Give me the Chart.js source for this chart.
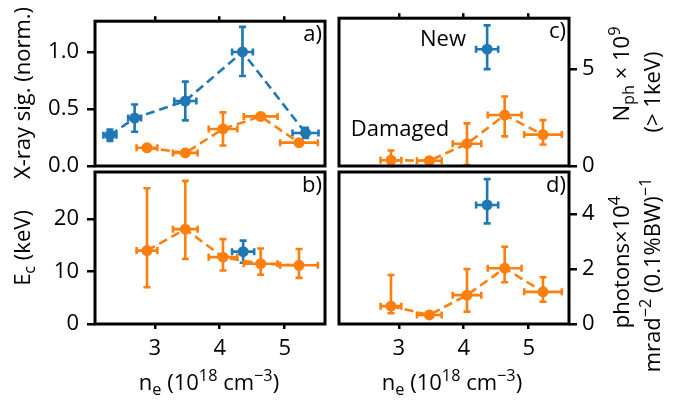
<!DOCTYPE html>
<html><head><meta charset="utf-8">
<script src="https://cdn.jsdelivr.net/npm/chart.js@4/dist/chart.umd.min.js"></script>
<style>
html,body{margin:0;padding:0;background:#fff;}
#wrap{position:relative;width:678px;height:401px;overflow:hidden;}
canvas{position:absolute;left:0;top:0;}
</style></head><body>
<div id="wrap">
<canvas id="ca" width="678" height="401"></canvas>
<canvas id="cb" width="678" height="401"></canvas>
<canvas id="cc" width="678" height="401"></canvas>
<canvas id="cd" width="678" height="401"></canvas>
</div>
<script>
const FONT = "'Open Sans', sans-serif";
const FS = 22;
const BLUE = '#1f77b4', ORANGE = '#ff7f0e';

// axes
const XMIN = 2.08, XMAX = 5.62;
const xTicks = [3, 4, 5];
const aYTicks = [0, 0.5, 1.0];
const aYLabels = ['0.0', '0.5', '1.0'];
const bYTicks = [0, 10, 20];
const cYTicks = [0, 5];
const dYTicks = [0, 2, 4];

// "New" target (blue)
const newX_a = [2.31, 2.69, 3.47, 4.35, 5.32];
const newXErr_a = [0.10, 0.10, 0.17, 0.16, 0.20];
const newY_a = [0.27, 0.42, 0.57, 1.00, 0.29];
const newYLo_a = [0.05, 0.12, 0.17, 0.21, 0.045];
const newYHi_a = [0.05, 0.12, 0.17, 0.22, 0.045];

const newX = [4.36];
const newXErr = [0.17];
const newY_b = [13.8];  const newYLo_b = [2.1];  const newYHi_b = [2.1];
const newY_c = [6.03];  const newYLo_c = [1.03]; const newYHi_c = [1.23];
const newY_d = [4.33];  const newYLo_d = [0.67]; const newYHi_d = [0.94];

// "Damaged" target (orange)
const dmgX = [2.88, 3.47, 4.05, 4.63, 5.22];
const dmgXErr = [0.16, 0.19, 0.22, 0.26, 0.29];
const dmgY_a = [0.16, 0.115, 0.325, 0.435, 0.205];
const dmgYLo_a = [0.012, 0.012, 0.145, 0.012, 0.02];
const dmgYHi_a = [0.012, 0.012, 0.145, 0.012, 0.02];
const dmgY_b = [14.0, 18.1, 12.75, 11.5, 11.2];
const dmgYLo_b = [7.0, 5.7, 2.55, 2.1, 2.4];
const dmgYHi_b = [11.9, 9.2, 3.45, 2.9, 3.1];
const dmgY_c = [0.30, 0.27, 1.15, 2.63, 1.62];
const dmgYLo_c = [0.30, 0.03, 1.10, 1.10, 0.51];
const dmgYHi_c = [0.50, 0.03, 1.05, 0.96, 0.75];
const dmgY_d = [0.65, 0.33, 1.05, 2.03, 1.17];
const dmgYLo_d = [0.26, 0.05, 0.60, 0.51, 0.36];
const dmgYHi_d = [1.13, 0.05, 0.95, 0.78, 0.53];

function pts(xs, ys) { return xs.map((x, i) => ({x: x, y: ys[i]})); }
function ds(color, xs, ys, xe, ylo, yhi, line) {
  return {
    data: pts(xs, ys), xErr: xe, yLo: ylo, yHi: yhi,
    showLine: !!line, borderColor: color, backgroundColor: color,
    borderWidth: 2.6, borderDash: [9, 5],
    pointRadius: 5.5, pointBorderWidth: 0, pointBackgroundColor: color, clip: false
  };
}

const errPlugin = {
  id: 'err',
  beforeDatasetsDraw(chart) {
    const ctx = chart.ctx, xs = chart.scales.x, ys = chart.scales.y;
    chart.data.datasets.forEach(d => {
      ctx.save();
      ctx.strokeStyle = d.borderColor; ctx.lineWidth = 2.6; ctx.setLineDash([]);
      d.data.forEach((p, i) => {
        const px = xs.getPixelForValue(p.x), py = ys.getPixelForValue(p.y);
        const x0 = xs.getPixelForValue(p.x - d.xErr[i]), x1 = xs.getPixelForValue(p.x + d.xErr[i]);
        const y0 = ys.getPixelForValue(p.y - d.yLo[i]), y1 = ys.getPixelForValue(p.y + d.yHi[i]);
        const c = 3.5;
        ctx.beginPath();
        ctx.moveTo(x0, py); ctx.lineTo(x1, py);
        ctx.moveTo(x0, py - c); ctx.lineTo(x0, py + c);
        ctx.moveTo(x1, py - c); ctx.lineTo(x1, py + c);
        ctx.moveTo(px, y0); ctx.lineTo(px, y1);
        ctx.moveTo(px - c, y0); ctx.lineTo(px + c, y0);
        ctx.moveTo(px - c, y1); ctx.lineTo(px + c, y1);
        ctx.stroke();
      });
      ctx.restore();
    });
  }
};

const framePlugin = {
  id: 'frame',
  afterDraw(chart, args, opts) {
    const a = chart.chartArea, ctx = chart.ctx;
    ctx.save();
    ctx.strokeStyle = '#000'; ctx.lineWidth = 3;
    ctx.strokeRect(a.left, a.top, a.right - a.left, a.bottom - a.top);
    ctx.font = FS + 'px ' + FONT; ctx.fillStyle = '#000';
    ctx.textAlign = 'right'; ctx.textBaseline = 'alphabetic';
    ctx.fillText(opts.tag, a.right - 3, a.top + 20);
    (opts.notes || []).forEach(n => {
      ctx.textAlign = 'center';
      ctx.fillText(n.t, n.x, n.y);
    });
    ctx.restore();
  }
};

function drawRich(ctx, parts, cx, cy, rot) {
  ctx.save();
  ctx.translate(cx, cy);
  if (rot) ctx.rotate(-Math.PI / 2);
  const small = FS * 0.74;
  let w = 0;
  const items = parts.map(p => {
    const s = (typeof p === 'string') ? {t: p} : p;
    const fs = (s.sub || s.sup) ? small : FS;
    ctx.font = fs + 'px ' + FONT;
    const mw = ctx.measureText(s.t).width;
    w += mw;
    return {t: s.t, fs: fs, dy: s.sub ? FS * 0.22 : (s.sup ? -FS * 0.42 : 0), w: mw};
  });
  let x = -w / 2;
  ctx.fillStyle = '#000'; ctx.textAlign = 'left'; ctx.textBaseline = 'alphabetic';
  items.forEach(it => { ctx.font = it.fs + 'px ' + FONT; ctx.fillText(it.t, x, FS * 0.36 + it.dy); x += it.w; });
  ctx.restore();
}

const titlePlugin = {
  id: 'titles',
  afterDraw(chart) {
    const ctx = chart.ctx;
    drawRich(ctx, ['X-ray sig. (norm.)'], 22, 93, true);
    drawRich(ctx, ['E', {t: 'c', sub: 1}, ' (keV)'], 22, 248, true);
    const xt = ['n', {t: 'e', sub: 1}, ' (10', {t: '18', sup: 1}, ' cm', {t: '−3', sup: 1}, ')'];
    drawRich(ctx, xt, 209, 382, false);
    drawRich(ctx, xt, 452, 382, false);
    drawRich(ctx, ['N', {t: 'ph', sub: 1}, ' × 10', {t: '9', sup: 1}], 621, 74, true);
    drawRich(ctx, ['(> 1keV)'], 652, 92, true);
    drawRich(ctx, ['photons×10', {t: '4', sup: 1}], 621, 262, true);
    drawRich(ctx, ['mrad', {t: '−2', sup: 1}, ' (0.1%BW)', {t: '−1', sup: 1}], 652, 275, true);
  }
};

function panel(id, o) {
  const tickFont = {family: FONT, size: FS};
  return new Chart(document.getElementById(id), {
    type: 'scatter',
    data: {datasets: o.datasets},
    options: {
      responsive: false, animation: false, devicePixelRatio: 1,
      layout: {padding: o.padding},
      plugins: {legend: {display: false}, tooltip: {enabled: false}, frame: {tag: o.tag, notes: o.notes}},
      scales: {
        x: {
          type: 'linear', position: o.xPos, min: XMIN, max: XMAX,
          afterBuildTicks: s => { s.ticks = xTicks.map(v => ({value: v})); },
          afterFit: s => { s.height = o.xH; },
          ticks: {display: o.xLabels, font: tickFont, color: '#000', padding: 7, maxRotation: 0,
                  callback: v => String(v)},
          grid: {drawOnChartArea: false, drawTicks: true, tickLength: 5, color: '#000', lineWidth: 2.5},
          border: {display: false}
        },
        y: {
          type: 'linear', position: o.yPos, min: o.yMin, max: o.yMax,
          afterBuildTicks: s => { s.ticks = o.yTicks.map(v => ({value: v})); },
          afterFit: s => { s.width = 60; },
          ticks: {font: tickFont, color: '#000', padding: o.yPos === 'left' ? 8 : 5,
                  callback: (v, i) => o.yLabels ? o.yLabels[i] : String(v)},
          grid: {drawOnChartArea: false, drawTicks: true, tickLength: 8, color: '#000', lineWidth: 2.5},
          border: {display: false}
        }
      }
    },
    plugins: [errPlugin, framePlugin].concat(o.extra || [])
  });
}

panel('ca', {
  padding: {left: 35, right: 353, top: 10, bottom: 235}, xPos: 'top', xH: 5, xLabels: false,
  yPos: 'left', yMin: 0, yMax: 1.27, yTicks: aYTicks, yLabels: aYLabels, tag: 'a)',
  datasets: [
    ds(BLUE, newX_a, newY_a, newXErr_a, newYLo_a, newYHi_a, true),
    ds(ORANGE, dmgX, dmgY_a, dmgXErr, dmgYLo_a, dmgYHi_a, true)
  ]
});
panel('cb', {
  padding: {left: 35, right: 353, top: 172, bottom: 37}, xPos: 'bottom', xH: 40, xLabels: true,
  yPos: 'left', yMin: 0, yMax: 29, yTicks: bYTicks, tag: 'b)',
  datasets: [
    ds(BLUE, newX, newY_b, newXErr, newYLo_b, newYHi_b, false),
    ds(ORANGE, dmgX, dmgY_b, dmgXErr, dmgYLo_b, dmgYHi_b, true)
  ]
});
panel('cc', {
  padding: {left: 339, right: 49, top: 10, bottom: 235}, xPos: 'top', xH: 5, xLabels: false,
  yPos: 'right', yMin: 0, yMax: 7.63, yTicks: cYTicks, tag: 'c)',
  notes: [{t: 'New', x: 443, y: 46}, {t: 'Damaged', x: 400, y: 136}],
  datasets: [
    ds(BLUE, newX, newY_c, newXErr, newYLo_c, newYHi_c, false),
    ds(ORANGE, dmgX, dmgY_c, dmgXErr, dmgYLo_c, dmgYHi_c, true)
  ]
});
panel('cd', {
  padding: {left: 339, right: 49, top: 172, bottom: 37}, xPos: 'bottom', xH: 40, xLabels: true,
  yPos: 'right', yMin: 0, yMax: 5.53, yTicks: dYTicks, tag: 'd)',
  datasets: [
    ds(BLUE, newX, newY_d, newXErr, newYLo_d, newYHi_d, false),
    ds(ORANGE, dmgX, dmgY_d, dmgXErr, dmgYLo_d, dmgYHi_d, true)
  ],
  extra: [titlePlugin]
});
</script>
</body></html>
